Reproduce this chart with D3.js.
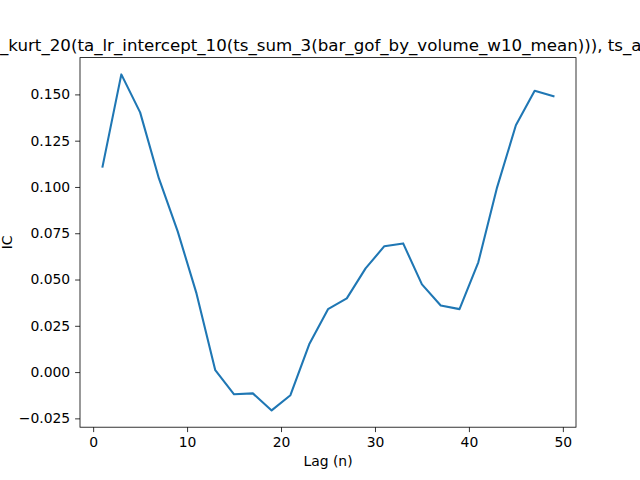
<!DOCTYPE html>
<html><head><meta charset="utf-8">
<script src="https://cdn.jsdelivr.net/npm/d3@7"></script>
<style>body{margin:0;background:#fff}svg{display:block}text{font-family:"DejaVu Sans",sans-serif;fill:#000}</style>
</head><body>
<script>
const lags = [1,3,5,7,9,11,13,15,17,19,21,23,25,27,29,31,33,35,37,39,41,43,45,47,49];
const ic = [0.111,0.1608,0.1403,0.1046,0.076,0.0425,0.001,-0.012,-0.0115,-0.0207,-0.0125,0.015,0.034,0.0398,0.056,0.068,0.0695,0.0474,0.036,0.034,0.0593,0.0998,0.1333,0.152,0.149];
const xTicks = [0,10,20,30,40,50];
const yTicks = [-0.025,0,0.025,0.05,0.075,0.1,0.125,0.15];
const titlePrefix = "ts";
const titleVisible = "_kurt_20(ta_lr_intercept_10(ts_sum_3(bar_gof_by_volume_w10_mean))), ts_a";
const titleSuffix = "vg_20";

const W=640,H=480, L=80,R=576,T=57.6,B=427.2;
const svg=d3.select("body").append("svg").attr("width",W).attr("height",H);
const xmin=d3.min(lags),xmax=d3.max(lags),xm=(xmax-xmin)*0.05;
const ymin=d3.min(ic),ymax=d3.max(ic),ym=(ymax-ymin)*0.05;
const x=d3.scaleLinear().domain([xmin-xm,xmax+xm]).range([L,R]);
const y=d3.scaleLinear().domain([ymin-ym,ymax+ym]).range([B,T]);

const xa=svg.append("g").attr("transform",`translate(0,${B})`)
  .call(d3.axisBottom(x).tickValues(xTicks).tickFormat(d3.format("d")).tickSize(4.9).tickPadding(4.9));
const ya=svg.append("g").attr("transform",`translate(${L},0)`)
  .call(d3.axisLeft(y).tickValues(yTicks).tickFormat(d=>d3.format(".3f")(d).replace("-","\u2212")).tickSize(4.9).tickPadding(4.9));
[xa,ya].forEach(a=>{a.select(".domain").remove();a.selectAll("line").attr("stroke","#000").attr("stroke-width",0.8);
  a.selectAll("text").style("font-size","13.9px").attr("fill","#000");});

svg.append("path").datum(lags.map((d,i)=>[d,ic[i]]))
  .attr("fill","none").attr("stroke","#1f77b4").attr("stroke-width",2.08)
  .attr("stroke-linejoin","round").attr("stroke-linecap","square")
  .attr("d",d3.line().x(d=>x(d[0])).y(d=>y(d[1])));

svg.append("rect").attr("x",L).attr("y",T).attr("width",R-L).attr("height",B-T)
  .attr("fill","none").attr("stroke","#000").attr("stroke-width",0.8);

svg.append("text").attr("x",(L+R)/2).attr("y",466).attr("text-anchor","middle").style("font-size","13.9px").text("Lag (n)");
svg.append("text").attr("transform",`translate(7.5,${(T+B)/2}) rotate(-90)`).attr("text-anchor","middle")
  .attr("dy","0.35em").style("font-size","13.9px").text("IC");

// title: position so visible part starts at x≈0 (reference title overflows the canvas)
const tmp=svg.append("text").style("font-size","16.67px").text(titlePrefix);
const pw=tmp.node().getComputedTextLength(); tmp.remove();
svg.append("text").attr("x",-pw).attr("y",T-6.5).style("font-size","16.67px")
  .text(titlePrefix+titleVisible+titleSuffix);
</script>
</body></html>
